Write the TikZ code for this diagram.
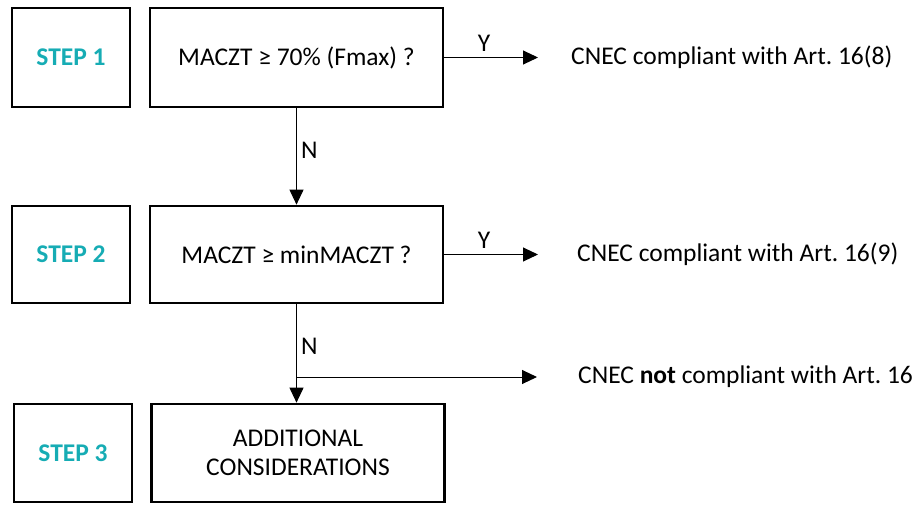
\documentclass[tikz,border=0pt]{standalone}
\usepackage{fontspec}
\setmainfont{Carlito}
\usetikzlibrary{arrows.meta}
\definecolor{stepteal}{RGB}{22,172,180}
\frenchspacing
\begin{document}
\begin{tikzpicture}[x=1pt,y=-1pt,
  every node/.style={font=\fontsize{25.5}{29}\selectfont, inner sep=0pt},
  stepbox/.style={draw, line width=2.7pt, minimum width=118pt, text=stepteal, font=\fontsize{25.5}{29}\selectfont\bfseries},
  qbox/.style={draw, line width=2.7pt, minimum width=293pt, align=center},
  conn/.style={line width=1pt},
  arr/.style={conn, -{Triangle[length=15pt,width=14pt]}},
  lbl/.style={anchor=center}
]
\useasboundingbox (0,0) rectangle (922,504);
% row 1
\node[stepbox, minimum height=99pt] (s1) at (71,57.5) {STEP 1};
\node[qbox, minimum height=99pt] (q1) at (296.5,57.5) {MACZT ≥ 70\% (Fmax) ?};
\coordinate (y1) at (538,57.5);
\draw[arr] (q1.east) -- (y1);
\node[lbl] (ly1) at (484,43) {Y};
\node[anchor=west] (r1) at (571,57.5) {CNEC compliant with Art. 16(8)};
% row 2
\node[stepbox, minimum height=97pt] (s2) at (71,254.5) {STEP 2};
\node[qbox, minimum height=97pt] (q2) at (296.5,254.5) {MACZT ≥ minMACZT ?};
\draw[arr] (q1.south) -- (q2.north);
\node[anchor=west] (n1) at (301,150) {N};
\coordinate (y2) at (538,254.5);
\draw[arr] (q2.east) -- (y2);
\node[lbl] (ly2) at (484,240) {Y};
\node[anchor=west] (r2) at (577,254.5) {CNEC compliant with Art. 16(9)};
% row 3
\node[stepbox, minimum height=98pt] (s3) at (73,453) {STEP 3};
\node[qbox, minimum height=98pt] (q3) at (298,453) {ADDITIONAL\\CONSIDERATIONS};
\draw[arr] (q2.south) -- (q2.south |- q3.north);
\node[anchor=west] (n2) at (301,346) {N};
\coordinate (br) at (296.5,377);
\coordinate (y3) at (537,377);
\draw[arr] (br) -- (y3);
\node[anchor=west] (r3) at (578,377) {CNEC \textbf{not} compliant with Art. 16};
\end{tikzpicture}
\end{document}
